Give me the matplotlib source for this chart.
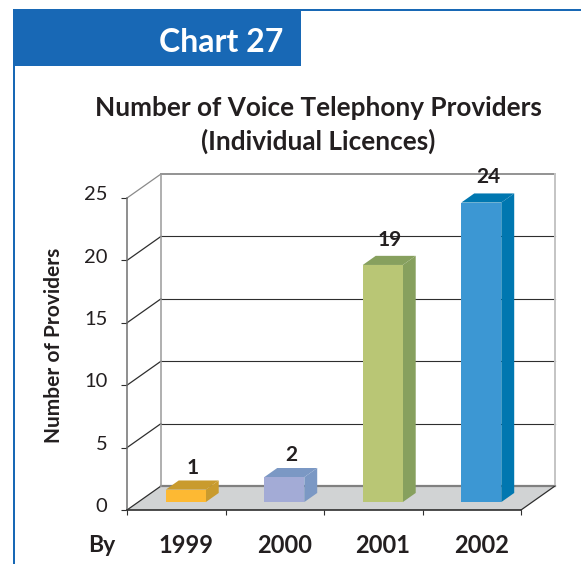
import matplotlib
matplotlib.use("Agg")
import matplotlib.pyplot as plt
import numpy as np
from matplotlib.patches import Rectangle
from matplotlib.transforms import ScaledTranslation

plt.rcParams['font.family'] = ['Lato', 'DejaVu Sans']

years = ['1999', '2000', '2001', '2002']
providers = [1, 2, 19, 24]
y_ticks = [0, 5, 10, 15, 20, 25]
front_colors = ['#FDB933', '#A3ABD6', '#B9C675', '#3C97D3']
side_colors = ['#C99B2E', '#7B98C4', '#87A05E', '#0077B0']

W, H = 581, 564
fig = plt.figure(figsize=(W / 100, H / 100), dpi=100, facecolor='white')

# front plane of the fake 3d box
ax = fig.add_axes([127 / W, (H - 510) / H, 394 / W, 312 / H])
ax.set_xlim(0, 4)
ax.set_ylim(0, 25)
ax.patch.set_visible(False)

# how far the back wall sits from the front plane, in data units
DX = 34 / (394 / 4)
DY = 24 / (312 / 25)


def proj(x, y, depth):
    return x + depth * DX, y + depth * DY


def poly(points, **kw):
    xs, ys = zip(*[proj(*p) for p in points])
    ax.fill(xs, ys, clip_on=False, **kw)


def line(p0, p1, **kw):
    xs, ys = zip(proj(*p0), proj(*p1))
    ax.plot(xs, ys, clip_on=False, **kw)


# floor
poly([(0, 0, 0), (4, 0, 0), (4, 0, 1), (0, 0, 1)], facecolor='#D1D3D4', edgecolor='none', zorder=1)

# walls and grid
for v in y_ticks[1:]:
    c = '#8A8A8A' if v == 25 else '#2E2E2E'
    lw = 1.3 if v == 25 else 0.8
    line((0, v, 0), (0, v, 1), color=c, lw=0.9, zorder=1.5)
    line((0, v, 1), (4, v, 1), color=c, lw=lw, zorder=1.5)
line((0, 0, 0), (0, 0, 1), color='#2E2E2E', lw=0.9, zorder=1.5)
line((0, 0, 1), (4, 0, 1), color='#808080', lw=1.6, zorder=1.5)
line((0, 0, 1), (0, 25, 1), color='#9A9A9A', lw=1.1, zorder=1.5)
line((4, 0, 1), (4, 25, 1), color='#C4C4C4', lw=1.4, zorder=1.5)
line((4, 0, 0), (4, 0, 1), color='#2E2E2E', lw=0.9, zorder=1.5)

# bars
bar_w = 0.406
d0, d1 = 0.33, 0.71
for i, v in enumerate(providers):
    x0 = i + 0.28
    x1 = x0 + bar_w
    poly([(x0, v, d0), (x1, v, d0), (x1, v, d1), (x0, v, d1)],
         facecolor=side_colors[i], edgecolor='none', zorder=3)
    poly([(x1, 0, d0), (x1, v, d0), (x1, v, d1), (x1, 0, d1)],
         facecolor=side_colors[i], edgecolor='none', zorder=3)
    poly([(x0, 0, d0), (x1, 0, d0), (x1, v, d0), (x0, v, d0)],
         facecolor=front_colors[i], edgecolor='none', zorder=4)
    tx, ty = proj(x0 + bar_w / 2, v, d1)
    yoff = 2 if v < 5 else 4.3
    ax.annotate(str(v), (tx, ty), xytext=(-4.3, yoff), textcoords='offset points', ha='center', va='bottom',
                fontsize=15, fontweight='bold', color='#231F20', zorder=5, annotation_clip=False)

# axes
for s in ['top', 'right']:
    ax.spines[s].set_visible(False)
ax.spines['left'].set_color('#707070')
ax.spines['left'].set_linewidth(1.1)
ax.spines['bottom'].set_color('#2E2E2E')
ax.spines['bottom'].set_linewidth(1.2)
ax.spines['left'].set_zorder(6)
ax.spines['bottom'].set_zorder(6)

ax.set_yticks(y_ticks)
ax.tick_params(axis='y', length=4, width=0.8, color='#2E2E2E', labelsize=14.5, labelcolor='#231F20', pad=10)
up = ScaledTranslation(0, 3.5 / 72, fig.dpi_scale_trans)
for lab in ax.get_yticklabels():
    lab.set_transform(lab.get_transform() + up)

ax.set_xticks(range(5))
ax.set_xticklabels([])
ax.tick_params(axis='x', which='major', length=3.5, width=0.8, color='#2E2E2E')
ax.set_xticks(np.arange(4) + 0.5 + 0.1, labels=years, minor=True)
ax.tick_params(axis='x', which='minor', length=0, pad=17, labelsize=17)
for lab in ax.get_xticklabels(minor=True):
    lab.set_fontweight('bold')
    lab.set_color('#231F20')

ax.set_ylabel('Number of Providers', fontsize=15, fontweight='bold', color='#231F20')
ax.yaxis.set_label_coords((64 - 127) / 394, (510 - 345) / 312)

# page furniture, pixel positions
blue = '#1868B5'


def box(x0, y0, x1, y1):
    fig.add_artist(Rectangle((x0 / W, 1 - y1 / H), (x1 - x0) / W, (y1 - y0) / H,
                             transform=fig.transFigure, facecolor=blue, edgecolor='none'))


def label(x, y, s, **kw):
    fig.text(x / W, 1 - y / H, s, ha='center', va='center', fontweight='bold', **kw)


box(13, 9, 301, 66)
box(301, 9, 581, 11)
box(13, 66, 15, 564)
label(221, 43, 'Chart 27', fontsize=23, color='white')
label(318, 108, 'Number of Voice Telephony Providers', fontsize=18.8, color='#231F20')
label(318, 141, '(Individual Licences)', fontsize=18.8, color='#231F20')
label(102, 545, 'By', fontsize=16.5, color='#231F20')

fig.savefig('out.png', dpi=100)
